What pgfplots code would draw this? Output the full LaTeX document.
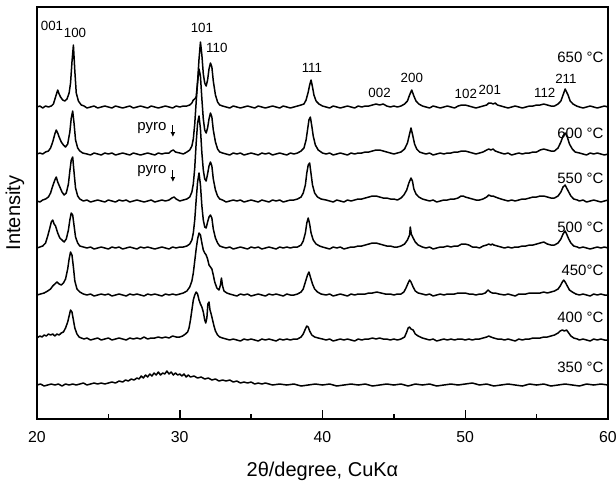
\documentclass[border=0pt]{standalone}
\usepackage{fontspec}
\setmainfont{Liberation Sans}
\usepackage{pgfplots}
\pgfplotsset{compat=1.18}
\usepackage{pgfplotstable}
\usetikzlibrary{arrows.meta}

% XRD traces, intensity relative to each trace's baseline
\pgfplotstableread{
x y
20.0 0
20.2 1
20.4 -1
20.6 1
20.8 0
21.0 1
21.15 3
21.3 10
21.45 17
21.55 13
21.65 10
21.8 7
21.95 6
22.1 8
22.25 14
22.35 24
22.45 45
22.55 62
22.65 36
22.75 14
22.9 6
23.1 2
23.3 1
23.5 -1
23.75 0
24.0 1
24.25 -1
24.5 0
24.75 1
25.0 0
25.25 -1
25.5 1
25.75 0
26.0 -1
26.25 0
26.5 1
26.75 -1
27.0 0
27.25 1
27.5 0
27.75 -1
28.0 1
28.25 0
28.5 -1
28.75 0
29.0 1
29.25 0
29.5 -1
29.75 1
30.0 0
30.25 1
30.5 1
30.7 2
30.85 4
30.95 7
31.05 8
31.15 10
31.25 25
31.35 48
31.45 65
31.55 52
31.65 33
31.75 24
31.85 21
31.95 27
32.05 38
32.15 44
32.25 40
32.35 26
32.5 12
32.65 5
32.8 2
33.0 1
33.25 0
33.5 -1
33.75 1
34.0 0
34.25 -1
34.5 0
34.75 1
35.0 0
35.25 -1
35.5 1
35.75 0
36.0 -1
36.25 0
36.5 1
36.75 0
37.0 -1
37.25 1
37.5 0
37.75 -1
38.0 0
38.25 1
38.5 2
38.7 3
38.85 7
39.0 15
39.1 22
39.2 27
39.3 20
39.4 12
39.55 6
39.75 3
40.0 1
40.25 0
40.5 -1
40.75 1
41.0 0
41.25 -1
41.5 0
41.75 1
42.0 0
42.25 -1
42.5 1
42.75 0
43.0 1
43.25 1
43.5 2
43.75 3
44.0 2
44.25 3
44.5 1
44.75 0
45.0 1
45.25 0
45.5 1
45.75 3
45.95 6
46.1 12
46.25 17
46.4 11
46.55 6
46.75 3
47.0 1
47.25 0
47.5 -1
47.75 1
48.0 0
48.25 -1
48.5 0
48.75 1
49.0 0
49.25 -1
49.5 1
49.75 2
50.0 2
50.25 1
50.5 0
50.75 -1
51.0 0
51.25 1
51.5 2
51.65 4
51.8 4
51.95 3
52.1 4
52.25 2
52.5 1
52.75 0
53.0 -1
53.25 0
53.5 1
53.75 0
54.0 -1
54.25 0
54.5 1
54.75 1
55.0 2
55.25 2
55.5 3
55.75 2
56.0 1
56.25 1
56.5 3
56.7 6
56.85 12
57.0 18
57.1 15
57.2 12
57.35 6
57.55 3
57.8 1
58.0 0
58.25 -1
58.5 0
58.75 1
59.0 0
59.25 -1
59.5 0
59.75 1
60.0 0
}\tSixFifty

\pgfplotstableread{
x y
20.0 0
20.2 1
20.4 0
20.6 2
20.8 3
20.95 6
21.1 12
21.25 20
21.35 24
21.45 21
21.55 17
21.7 12
21.85 9
22.0 7
22.15 10
22.3 22
22.4 36
22.5 43
22.6 30
22.7 14
22.85 6
23.0 3
23.2 1
23.5 0
23.75 -1
24.0 1
24.25 0
24.5 -1
24.75 1
25.0 0
25.25 1
25.5 -1
25.75 0
26.0 1
26.25 0
26.5 -1
26.75 1
27.0 0
27.25 -1
27.5 0
27.75 1
28.0 0
28.25 -1
28.5 1
28.75 0
29.0 1
29.25 1
29.4 3
29.55 4
29.7 2
30.0 1
30.25 0
30.5 2
30.7 4
30.85 8
30.95 15
31.05 30
31.15 52
31.25 72
31.35 85
31.45 78
31.55 55
31.65 35
31.75 24
31.85 21
31.95 26
32.05 35
32.15 41
32.25 37
32.35 24
32.5 12
32.65 5
32.8 2
33.0 1
33.25 0
33.5 -1
33.75 1
34.0 0
34.25 1
34.5 -1
34.75 0
35.0 1
35.25 0
35.5 -1
35.75 1
36.0 0
36.25 1
36.5 -1
36.75 0
37.0 1
37.25 0
37.5 -1
37.75 1
38.0 0
38.25 1
38.5 3
38.7 6
38.85 14
38.95 24
39.05 34
39.15 37
39.25 28
39.35 18
39.5 9
39.7 4
40.0 1
40.25 0
40.5 1
40.75 -1
41.0 0
41.25 1
41.5 0
41.75 -1
42.0 1
42.25 0
42.5 1
42.75 1
43.0 2
43.25 2
43.5 3
43.75 4
44.0 4
44.25 3
44.5 2
44.75 1
45.0 0
45.25 1
45.5 2
45.75 5
45.95 11
46.1 20
46.2 26
46.3 20
46.45 10
46.6 5
46.8 2
47.0 1
47.25 0
47.5 1
47.75 -1
48.0 0
48.25 1
48.5 0
48.75 1
49.0 1
49.25 2
49.5 2
49.75 3
50.0 3
50.25 2
50.5 1
50.75 0
51.0 1
51.25 2
51.5 4
51.65 5
51.8 4
51.95 5
52.1 3
52.3 2
52.5 1
52.75 0
53.0 1
53.25 -1
53.5 0
53.75 1
54.0 0
54.25 1
54.5 1
54.75 2
55.0 2
55.25 4
55.5 5
55.75 4
56.0 3
56.25 3
56.5 6
56.7 12
56.85 18
57.0 21
57.15 17
57.3 10
57.5 5
57.7 2
58.0 1
58.25 0
58.5 -1
58.75 1
59.0 0
59.25 1
59.5 0
59.75 -1
60.0 0
}\tSixHundred

\pgfplotstableread{
x y
20.0 0
20.2 -1
20.4 1
20.6 2
20.8 4
20.95 8
21.1 15
21.25 21
21.35 24
21.45 19
21.6 14
21.75 9
21.9 6
22.05 8
22.2 17
22.3 30
22.4 41
22.5 44
22.6 28
22.7 13
22.85 5
23.0 2
23.25 0
23.5 1
23.75 -1
24.0 0
24.25 1
24.5 0
24.75 -1
25.0 1
25.25 0
25.5 -1
25.75 1
26.0 0
26.25 1
26.5 -1
26.75 0
27.0 1
27.25 0
27.5 -1
27.75 0
28.0 1
28.25 -1
28.5 0
28.75 1
29.0 0
29.25 1
29.45 3
29.6 4
29.75 2
30.0 0
30.25 1
30.5 2
30.7 4
30.85 9
30.95 17
31.05 33
31.15 58
31.25 78
31.35 85
31.45 72
31.55 48
31.65 31
31.75 22
31.85 20
31.95 27
32.05 35
32.15 39
32.25 35
32.35 22
32.5 11
32.65 5
32.8 2
33.0 1
33.25 -1
33.5 0
33.75 1
34.0 0
34.25 1
34.5 -1
34.75 0
35.0 1
35.25 0
35.5 -1
35.75 1
36.0 0
36.25 -1
36.5 1
36.75 0
37.0 1
37.25 -1
37.5 0
37.75 1
38.0 1
38.25 2
38.5 4
38.65 8
38.8 16
38.9 28
39.0 36
39.1 38
39.2 27
39.3 16
39.45 8
39.65 4
39.9 2
40.25 1
40.5 0
40.75 -1
41.0 1
41.25 0
41.5 -1
41.75 1
42.0 0
42.25 1
42.5 2
42.75 2
43.0 3
43.25 4
43.5 5
43.75 5
44.0 4
44.25 3
44.5 3
44.75 2
45.0 2
45.25 1
45.5 3
45.7 6
45.9 11
46.05 18
46.2 23
46.3 20
46.4 12
46.55 7
46.75 4
47.0 2
47.25 1
47.5 0
47.75 1
48.0 -1
48.25 0
48.5 1
48.75 1
49.0 2
49.25 2
49.5 3
49.7 5
49.85 5
50.0 4
50.25 3
50.5 2
50.75 1
51.0 1
51.25 2
51.5 4
51.65 6
51.8 5
51.95 5
52.1 4
52.3 3
52.5 2
52.75 1
53.0 0
53.25 1
53.5 0
53.75 1
54.0 2
54.25 2
54.5 3
54.75 4
55.0 4
55.25 5
55.5 5
55.75 4
56.0 3
56.25 3
56.5 5
56.7 9
56.85 14
57.0 16
57.1 13
57.25 9
57.4 5
57.6 2
57.85 1
58.0 0
58.25 1
58.5 -1
58.75 0
59.0 1
59.25 0
59.5 -1
59.75 0
60.0 1
}\tFiveFifty

\pgfplotstableread{
x y
20.0 0
20.2 1
20.4 2
20.6 5
20.75 12
20.9 20
21.0 26
21.1 28
21.2 24
21.3 22
21.45 15
21.6 10
21.75 8
21.9 6
22.05 9
22.2 18
22.3 28
22.4 35
22.5 33
22.6 22
22.7 11
22.85 5
23.0 2
23.25 1
23.5 0
23.75 1
24.0 -1
24.25 0
24.5 1
24.75 0
25.0 -1
25.25 1
25.5 0
25.75 1
26.0 -1
26.25 0
26.5 1
26.75 0
27.0 -1
27.25 1
27.5 0
27.75 1
28.0 0
28.25 -1
28.5 0
28.75 1
29.0 0
29.25 -1
29.5 1
29.75 0
30.0 1
30.25 1
30.5 2
30.7 4
30.85 8
30.95 15
31.05 28
31.15 48
31.25 66
31.35 75
31.45 63
31.55 42
31.65 28
31.75 21
31.85 20
31.95 26
32.05 31
32.15 33
32.25 30
32.35 19
32.5 10
32.65 5
32.8 2
33.0 1
33.25 0
33.5 1
33.75 -1
34.0 0
34.25 1
34.5 0
34.75 -1
35.0 1
35.25 0
35.5 1
35.75 -1
36.0 0
36.25 1
36.5 0
36.75 -1
37.0 1
37.25 0
37.5 1
37.75 0
38.0 1
38.25 1
38.5 3
38.65 7
38.8 15
38.9 25
39.0 30
39.1 24
39.2 15
39.35 8
39.55 4
39.8 2
40.0 1
40.25 0
40.5 -1
40.75 1
41.0 0
41.25 1
41.5 -1
41.75 0
42.0 1
42.25 1
42.5 2
42.75 2
43.0 3
43.25 4
43.5 5
43.75 5
44.0 4
44.25 3
44.5 2
44.75 2
45.0 1
45.25 1
45.5 2
45.75 4
45.95 8
46.1 13
46.15 21
46.22 14
46.35 10
46.5 6
46.7 3
47.0 1
47.25 0
47.5 1
47.75 -1
48.0 0
48.25 1
48.5 1
48.75 2
49.0 1
49.25 2
49.5 2
49.75 4
50.0 4
50.25 3
50.5 1
50.75 1
51.0 0
51.25 2
51.5 3
51.65 4
51.8 3
51.9 4
52.0 3
52.25 2
52.5 1
52.75 0
53.0 1
53.25 0
53.5 1
53.75 1
54.0 2
54.25 2
54.5 3
54.75 3
55.0 4
55.25 5
55.5 6
55.75 4
56.0 3
56.25 3
56.5 5
56.7 9
56.85 14
57.0 17
57.1 14
57.25 9
57.4 5
57.6 2
57.85 1
58.0 0
58.25 1
58.5 0
58.75 -1
59.0 0
59.25 1
59.5 0
59.75 1
60.0 0
}\tFiveHundred

\pgfplotstableread{
x y
20.0 0
20.25 1
20.5 2
20.75 4
20.95 6
21.1 9
21.25 11
21.4 13
21.55 11
21.7 10
21.85 12
22.0 16
22.15 26
22.25 36
22.35 43
22.45 40
22.55 28
22.65 14
22.8 6
23.0 3
23.25 1
23.5 0
23.75 1
24.0 -1
24.25 0
24.5 1
24.75 0
25.0 1
25.25 -1
25.5 0
25.75 1
26.0 0
26.25 -1
26.5 1
26.75 0
27.0 1
27.25 0
27.5 -1
27.75 1
28.0 0
28.25 1
28.5 0
28.75 -1
29.0 1
29.25 0
29.5 1
29.75 0
30.0 1
30.25 2
30.5 4
30.7 8
30.85 14
30.95 22
31.05 34
31.15 46
31.25 56
31.35 62
31.45 60
31.55 52
31.65 45
31.75 42
31.85 40
31.95 36
32.05 30
32.15 28
32.25 26
32.35 20
32.45 13
32.6 7
32.75 5
32.85 10
32.92 17
33.0 9
33.1 4
33.3 2
33.5 1
33.75 0
34.0 -1
34.25 1
34.5 0
34.75 1
35.0 -1
35.25 0
35.5 1
35.75 0
36.0 -1
36.25 1
36.5 0
36.75 1
37.0 0
37.25 -1
37.5 1
37.75 0
38.0 0
38.25 1
38.5 3
38.65 6
38.8 13
38.95 20
39.05 23
39.15 18
39.3 11
39.45 6
39.65 3
39.9 1
40.25 0
40.5 1
40.75 -1
41.0 0
41.25 1
41.5 0
41.75 -1
42.0 1
42.25 0
42.5 1
42.75 1
43.0 1
43.25 2
43.5 2
43.8 3
44.1 2
44.4 1
44.75 1
45.0 0
45.25 1
45.5 1
45.7 3
45.85 7
46.0 12
46.1 15
46.2 13
46.35 8
46.5 4
46.7 2
47.0 1
47.25 0
47.5 1
47.75 -1
48.0 0
48.25 1
48.5 0
48.75 1
49.0 1
49.25 1
49.5 2
49.8 2
50.0 2
50.25 1
50.5 1
50.75 0
51.0 1
51.2 1
51.4 2
51.6 5
51.75 3
51.9 2
52.1 2
52.35 1
52.75 0
53.0 1
53.25 0
53.5 -1
53.75 1
54.0 1
54.25 1
54.5 2
54.75 2
55.0 2
55.25 2
55.5 3
55.75 2
56.0 3
56.25 4
56.5 6
56.65 9
56.8 13
56.9 15
57.0 13
57.15 9
57.3 5
57.5 3
57.75 1
58.0 0
58.25 1
58.5 0
58.75 -1
59.0 1
59.25 0
59.5 1
59.75 0
60.0 0
}\tFourFifty

\pgfplotstableread{
x y
20.0 2
20.2 4
20.35 3
20.5 5
20.65 4
20.8 6
20.95 5
21.1 6
21.25 4
21.4 6
21.55 5
21.7 7
21.85 8
22.0 12
22.15 18
22.25 24
22.35 30
22.45 28
22.55 20
22.65 12
22.8 6
22.95 3
23.1 2
23.3 1
23.5 2
23.75 0
24.0 1
24.25 2
24.5 0
24.75 1
25.0 2
25.25 0
25.5 1
25.75 2
26.0 1
26.25 0
26.5 2
26.75 1
27.0 2
27.25 1
27.5 3
27.75 1
28.0 2
28.25 2
28.5 3
28.75 2
29.0 3
29.25 2
29.5 4
29.75 3
30.0 3
30.2 4
30.4 6
30.55 8
30.65 12
30.75 20
30.85 30
30.95 40
31.05 45
31.15 48
31.25 46
31.35 40
31.45 36
31.55 33
31.65 28
31.75 20
31.82 17
31.9 22
31.97 36
32.05 38
32.12 30
32.2 26
32.3 20
32.4 14
32.5 9
32.65 5
32.8 3
33.0 2
33.25 1
33.5 0
33.75 1
34.0 0
34.25 -1
34.5 1
34.75 0
35.0 1
35.25 0
35.5 -1
35.75 1
36.0 0
36.25 1
36.5 0
36.75 -1
37.0 1
37.25 0
37.5 1
37.75 0
38.0 1
38.25 1
38.5 3
38.65 6
38.8 11
38.9 14
39.0 13
39.1 9
39.25 5
39.45 3
39.7 2
40.0 1
40.25 0
40.5 1
40.75 -1
41.0 0
41.25 1
41.5 0
41.75 1
42.0 0
42.25 -1
42.5 1
42.75 0
43.0 1
43.25 1
43.5 2
43.75 1
44.0 2
44.25 1
44.5 1
44.75 0
45.0 1
45.25 0
45.5 1
45.75 3
45.9 8
46.0 12
46.1 13
46.2 11
46.35 10
46.5 6
46.7 4
47.0 2
47.25 1
47.5 0
47.75 1
48.0 -1
48.25 0
48.5 1
48.75 0
49.0 1
49.25 0
49.5 1
49.75 1
50.0 0
50.25 1
50.5 0
50.75 1
51.0 1
51.25 2
51.5 3
51.65 4
51.8 3
52.0 2
52.25 1
52.5 1
52.75 0
53.0 1
53.25 0
53.5 -1
53.75 1
54.0 0
54.25 1
54.5 1
54.75 2
55.0 2
55.25 2
55.5 3
55.75 3
56.0 4
56.25 5
56.5 7
56.65 9
56.8 10
56.95 9
57.1 10
57.25 7
57.4 4
57.6 2
57.85 1
58.0 0
58.25 1
58.5 0
58.75 -1
59.0 1
59.25 0
59.5 1
59.75 0
60.0 0
}\tFourHundred

\pgfplotstableread{
x y
20.0 0
20.25 1
20.5 -1
20.75 0
21.0 1
21.25 0
21.5 1
21.75 -1
22.0 1
22.25 0
22.5 1
22.75 0
23.0 1
23.25 2
23.5 0
23.75 1
24.0 2
24.25 1
24.5 2
24.75 1
25.0 2
25.25 3
25.5 2
25.75 4
26.0 3
26.2 5
26.4 4
26.6 6
26.8 5
27.0 7
27.15 6
27.3 9
27.45 7
27.6 10
27.75 8
27.9 11
28.05 9
28.2 12
28.35 10
28.5 13
28.65 10
28.8 12
28.95 11
29.1 14
29.25 11
29.4 13
29.55 10
29.7 12
29.85 10
30.0 11
30.15 9
30.3 11
30.45 8
30.6 10
30.75 8
31.0 9
31.25 7
31.5 8
31.75 6
32.0 7
32.25 5
32.5 6
32.75 4
33.0 5
33.25 4
33.5 5
33.75 3
34.0 4
34.25 2
34.5 3
34.75 2
35.0 3
35.25 1
35.5 2
35.75 1
36.0 2
36.5 0
37.0 1
37.5 0
38.0 1
38.5 -1
39.0 0
39.5 1
40.0 0
40.5 1
41.0 -1
41.5 0
42.0 1
42.5 0
43.0 1
43.5 -1
44.0 0
44.5 1
45.0 0
45.5 1
46.0 -1
46.5 1
47.0 0
47.5 1
48.0 -1
48.5 0
49.0 1
49.5 0
50.0 1
50.5 2
51.0 0
51.5 1
52.0 -1
52.5 0
53.0 1
53.5 0
54.0 -1
54.5 1
55.0 0
55.5 1
56.0 -1
56.5 0
57.0 1
57.5 0
58.0 -1
58.5 1
59.0 0
59.5 1
60.0 0
}\tThreeFifty

\begin{document}
\begin{tikzpicture}
\begin{axis}[
    scale only axis,
    width=342.6pt,
    height=247.2pt,
    xmin=20, xmax=60,
    ymin=0, ymax=412,
    clip=false,
    axis line style={line width=0.9pt},
    xtick={20,30,40,50,60},
    minor xtick={25,35,45,55},
    ytick=\empty,
    xtick pos=left,
    tick align=inside,
    major tick length=5.4pt,
    minor tick length=3pt,
    every tick/.style={black, line width=0.9pt},
    /pgf/number format/assume math mode=true,
    ticklabel style={font=\fontsize{9.5}{11}\selectfont},
    xticklabel style={yshift=-4pt},
    xlabel={2θ/degree, CuKα},
    ylabel={Intensity},
    label style={font=\fontsize{12}{14}\selectfont},
    xlabel style={at={(rel axis cs:0.5,-0.09)}, anchor=north},
    ylabel style={at={(rel axis cs:-0.012,0.5)}, anchor=south},
]

\addplot[black, no markers, line width=0.9pt, line join=round] table[x=x, y expr=\thisrow{y}+312] {\tSixFifty};
\addplot[black, no markers, line width=0.9pt, line join=round] table[x=x, y expr=\thisrow{y}+265] {\tSixHundred};
\addplot[black, no markers, line width=0.9pt, line join=round] table[x=x, y expr=\thisrow{y}+218] {\tFiveFifty};
\addplot[black, no markers, line width=0.9pt, line join=round] table[x=x, y expr=\thisrow{y}+171] {\tFiveHundred};
\addplot[black, no markers, line width=0.9pt, line join=round] table[x=x, y expr=\thisrow{y}+124] {\tFourFifty};
\addplot[black, no markers, line width=0.9pt, line join=round] table[x=x, y expr=\thisrow{y}+79] {\tFourHundred};
\addplot[black, no markers, line width=0.9pt, line join=round] table[x=x, y expr=\thisrow{y}+34] {\tThreeFifty};

% temperature labels
\begin{scope}[every node/.style={anchor=east, font=\fontsize{9}{10}\selectfont, inner sep=0pt}]
\node at (axis cs:59.7,362) {650 °C};
\node at (axis cs:59.7,286) {600 °C};
\node at (axis cs:59.7,241) {550 °C};
\node at (axis cs:59.7,192) {500 °C};
\node at (axis cs:59.7,149) {450°C};
\node at (axis cs:59.7,102) {400 °C};
\node at (axis cs:59.7,52) {350 °C};
\end{scope}

% reflection indices
\begin{scope}[every node/.style={font=\fontsize{8}{9}\selectfont, inner sep=0pt}]
\node at (axis cs:21.05,393) {001};
\node at (axis cs:22.66,386) {100};
\node at (axis cs:31.55,391) {101};
\node at (axis cs:32.6,371) {110};
\node at (axis cs:39.26,351) {111};
\node at (axis cs:44.0,326) {002};
\node at (axis cs:46.26,341) {200};
\node at (axis cs:50.04,325) {102};
\node at (axis cs:51.72,329) {201};
\node at (axis cs:55.57,326) {112};
\node at (axis cs:57.05,340) {211};
\end{scope}

% pyrochlore markers
\node[font=\fontsize{9}{10}\selectfont] at (axis cs:28.05,291) {pyro};
\node[font=\fontsize{9}{10}\selectfont] at (axis cs:28.05,248) {pyro};
\draw[-{Latex[length=3pt,width=3pt]}, line width=0.7pt] (axis cs:29.52,294) -- (axis cs:29.52,282);
\draw[-{Latex[length=3pt,width=3pt]}, line width=0.7pt] (axis cs:29.52,249) -- (axis cs:29.52,237);

\coordinate (bl) at (rel axis cs:-0.0648,-0.155);
\coordinate (tr) at (rel axis cs:1.014,1.017);
\end{axis}
\pgfresetboundingbox
\path[use as bounding box] (bl) rectangle (tr);
\end{tikzpicture}
\end{document}
